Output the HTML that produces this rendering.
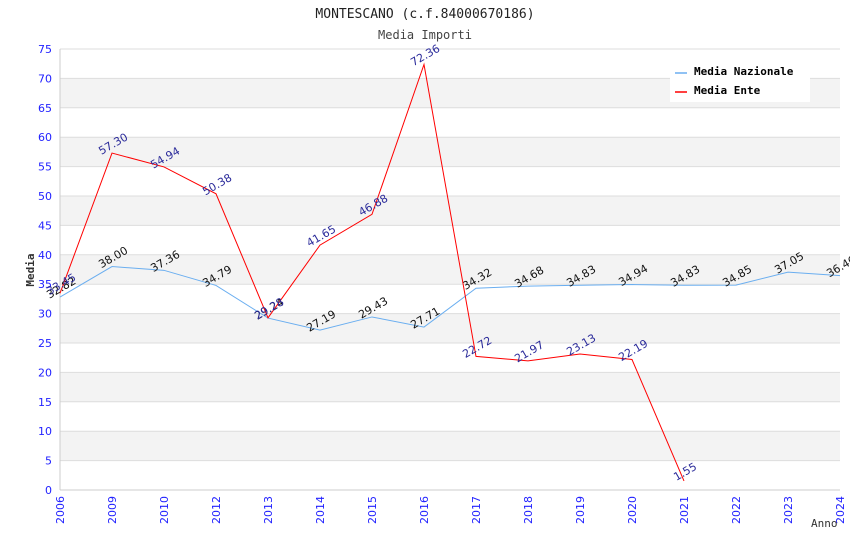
<!DOCTYPE html>
<html><head><meta charset="utf-8"><style>
body{margin:0;background:#fff}
text{font-family:"DejaVu Sans","Liberation Sans",sans-serif}
text.mono{font-family:"DejaVu Sans Mono","Liberation Mono",monospace}
</style></head><body>
<svg id="c" width="850" height="550" xmlns="http://www.w3.org/2000/svg">
<text class="mono" x="425" y="18" text-anchor="middle" font-size="13" fill="#222">MONTESCANO (c.f.84000670186)</text>
<text class="mono" x="425" y="39" text-anchor="middle" font-size="12" fill="#444">Media Importi</text>
<g id="grid"></g><g id="marks"></g>
<text class="mono" x="34" y="270" transform="rotate(-90 34 270)" text-anchor="middle" font-size="11" font-weight="bold" fill="#333">Media</text>
<text class="mono" x="811" y="527" font-size="11" fill="#333">Anno</text>
<g>
<rect x="670" y="60" width="140" height="42" fill="#fff"/>
<line x1="675" y1="73" x2="687" y2="73" stroke="#6aaef0" stroke-width="1.5"/>
<text class="mono" x="694" y="75" font-size="11" font-weight="bold">Media Nazionale</text>
<line x1="675" y1="92" x2="687" y2="92" stroke="#f00" stroke-width="1.5"/>
<text class="mono" x="694" y="94" font-size="11" font-weight="bold">Media Ente</text>
</g>
</svg>
<script>
const categories=["2006","2009","2010","2012","2013","2014","2015","2016","2017","2018","2019","2020","2021","2022","2023","2024"];
const nazionale=[32.82,38.00,37.36,34.79,29.24,27.19,29.43,27.71,34.32,34.68,34.83,34.94,34.83,34.85,37.05,36.46];
const ente=[33.45,57.30,54.94,50.38,29.28,41.65,46.88,72.36,22.72,21.97,23.13,22.19,1.55,null,null,null];
const yTicks=[0,5,10,15,20,25,30,35,40,45,50,55,60,65,70,75];
const L=60,R=840,T=49,B=490,YMAX=75;
const NS="http://www.w3.org/2000/svg";
const x=i=>L+i*(R-L)/(categories.length-1);
const y=v=>B-v/YMAX*(B-T);
function mk(p,t,a){const e=document.createElementNS(NS,t);for(const k in a)e.setAttribute(k,a[k]);p.appendChild(e);return e;}
const g=document.getElementById('grid'),m=document.getElementById('marks');
yTicks.forEach(v=>{
 if(v%10==5&&v<75){const r=mk(g,'rect',{x:L,y:y(v+5),width:R-L,height:y(v)-y(v+5),fill:'#f3f3f3'});
 
 }
 const l=mk(g,'line',{x1:L,x2:R,y1:y(v),y2:y(v),stroke:'#ddd','stroke-width':1});
 
 
 const t=mk(g,'text',{x:L-8,y:y(v)+4,'text-anchor':'end','font-size':11,fill:'#22f'});t.textContent=v;
 
 
});
mk(g,'line',{x1:L,x2:L,y1:T,y2:B,stroke:'#ccc'});
mk(g,'line',{x1:L,x2:R,y1:B,y2:B,stroke:'#ccc'});
categories.forEach((c,i)=>{
 const t=mk(g,'text',{x:x(i)+4,y:B+6,'text-anchor':'end','font-size':11,fill:'#22f',transform:`rotate(-90 ${x(i)+4} ${B+6})`});t.textContent=c;
 
 
});
function series(vals,color,lab,name){
 let d='';vals.forEach((v,i)=>{if(v==null)return;d+=(d?'L':'M')+x(i)+' '+y(v);});
 const p=mk(m,'path',{d:d,fill:'none',stroke:color,'stroke-width':1});
 
 
 vals.forEach((v,i)=>{if(v==null)return;
  const tx=x(i)+3,ty=y(v)-6;
  const t=mk(m,'text',{x:tx,y:ty,'text-anchor':'middle','font-size':11,fill:lab,transform:`rotate(-30 ${tx} ${ty})`});t.textContent=v.toFixed(2);
  
  
 });
}
series(nazionale,'#6aaef0','#111','nazionale');
series(ente,'#f00','#2a2a9a','ente');
</script>
</body></html>
